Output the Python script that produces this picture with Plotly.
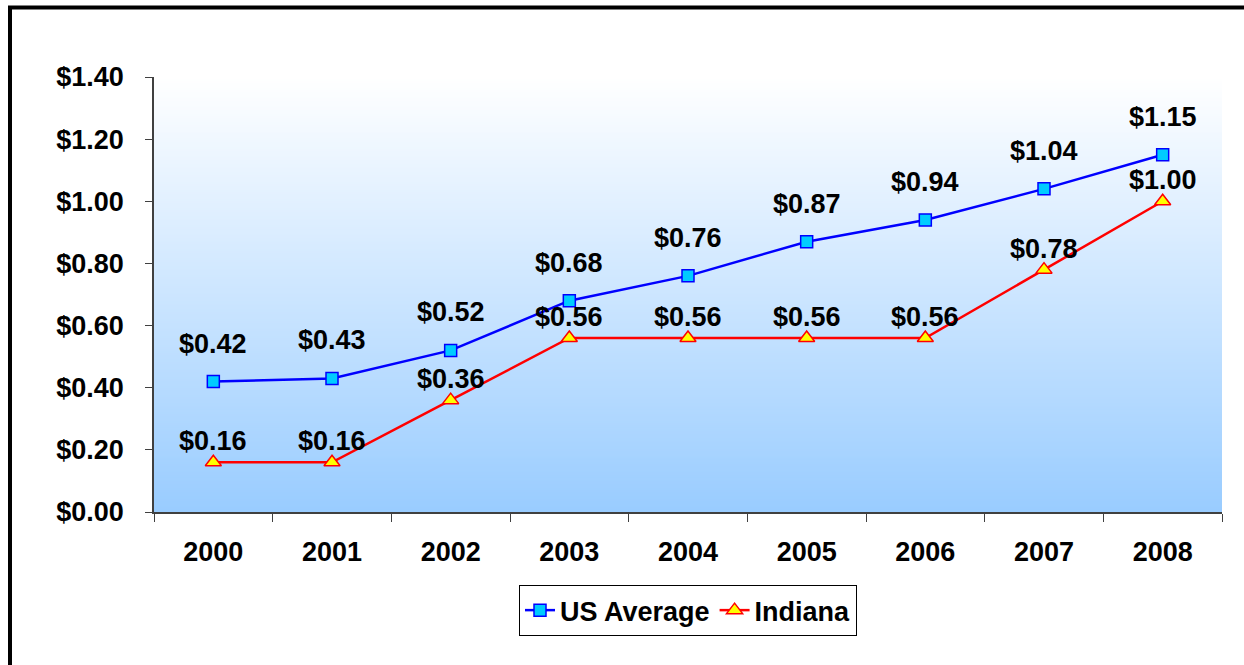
import plotly.graph_objects as go

years = ["2000", "2001", "2002", "2003", "2004", "2005", "2006", "2007", "2008"]
us_average = [0.42, 0.43, 0.52, 0.68, 0.76, 0.87, 0.94, 1.04, 1.15]
indiana = [0.16, 0.16, 0.36, 0.56, 0.56, 0.56, 0.56, 0.78, 1.00]
y_ticks = [0.0, 0.2, 0.4, 0.6, 0.8, 1.0, 1.2, 1.4]

W, H = 1244, 665
L, R, T, B = 154, 22, 77, 153
pw, ph = W - L - R, H - T - B

FONT = "Liberation Sans, Arial, sans-serif"
FS = 27
fig = go.Figure()

fig.add_trace(go.Scatter(
    x=years, y=us_average, name="US Average", mode="lines+markers",
    line=dict(color="#0000FF", width=2.5),
    marker=dict(symbol="square", size=12, color="#00CCFF", line=dict(color="#0000FF", width=1.5)),
))
fig.add_trace(go.Scatter(
    x=years, y=indiana, name="Indiana", mode="lines+markers",
    line=dict(color="#FF0000", width=2.5),
    marker=dict(symbol="triangle-up", size=14, color="#FFFF00", line=dict(color="#FF0000", width=1.5)),
))

annotations = []
for i, yv in enumerate(us_average):
    annotations.append(dict(x=i, y=yv, text=f"${yv:.2f}", showarrow=False, yshift=38,
                            font=dict(family=FONT, size=FS, color="black", weight="bold")))
for i, yv in enumerate(indiana):
    annotations.append(dict(x=i, y=yv, text=f"${yv:.2f}", showarrow=False, yshift=21,
                            font=dict(family=FONT, size=FS, color="black", weight="bold")))

# gradient background strips (white -> light blue)
shapes = []
n = 200
top = (255, 255, 255)
bot = (153, 204, 255)
for i in range(n):
    f = (i + 0.5) / n  # 0 at bottom
    c = tuple(round(bot[k] + (top[k] - bot[k]) * f) for k in range(3))
    shapes.append(dict(type="rect", xref="x domain", yref="y domain", x0=0, x1=1,
                       y0=i / n, y1=(i + 1) / n + 0.002, fillcolor=f"rgb{c}", line=dict(width=0),
                       layer="below"))
# outer frame
to_px = lambda p: (p - L) / pw
to_py = lambda p: (H - B - p) / ph
shapes.append(dict(type="rect", xref="paper", yref="paper",
                   x0=to_px(10), x1=to_px(1260), y0=to_py(680), y1=to_py(7.5),
                   line=dict(color="black", width=4), fillcolor="rgba(0,0,0,0)"))

fig.update_layout(
    width=W, height=H,
    margin=dict(l=L, r=R, t=T, b=B),
    paper_bgcolor="white", plot_bgcolor="rgba(0,0,0,0)",
    font=dict(family=FONT, size=FS, color="black", weight="bold"),
    showlegend=True,
    legend=dict(orientation="h", x=0.5, xanchor="center", y=-0.168, yanchor="top",
                bordercolor="black", borderwidth=1, bgcolor="white",
                font=dict(family=FONT, size=FS, color="black", weight="bold"),
                itemwidth=30, tracegroupgap=0),
    annotations=annotations,
    shapes=shapes,
)
fig.update_xaxes(type="category", tickson="boundaries", ticks="outside", ticklen=8,
                 tickcolor="#404040", showline=True, linecolor="#404040", linewidth=1.5,
                 showgrid=False, zeroline=False, ticklabelstandoff=15, range=[-0.5, 8.5],
                 tickfont=dict(family=FONT, size=FS, color="black", weight="bold"))
fig.update_yaxes(range=[0, 1.4], tickvals=y_ticks, ticktext=[f"${v:.2f}" for v in y_ticks],
                 ticks="outside", ticklen=7, tickcolor="#404040", showline=True,
                 linecolor="#404040", linewidth=1.5, showgrid=False, zeroline=False,
                 ticklabelstandoff=16,
                 tickfont=dict(family=FONT, size=FS, color="black", weight="bold"))

fig.write_html("out.html", config={"displayModeBar": False},
               post_script="document.body.style.margin='0';")
